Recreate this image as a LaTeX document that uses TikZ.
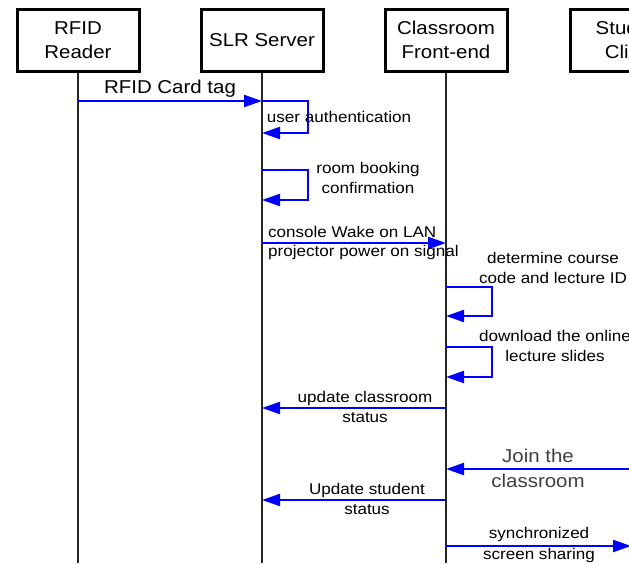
\documentclass[tikz,border=0pt]{standalone}
\usepackage{fontspec}
\setmainfont{Liberation Sans}[FakeStretch=1.1]
\usetikzlibrary{arrows.meta}
\begin{document}
\begin{tikzpicture}[x=1pt,y=-1pt,
  actor/.style={draw, line width=3pt, minimum width=122pt, minimum height=62pt,
    align=center, inner sep=0pt, font=\fontsize{18.6}{24}\selectfont},
  life/.style={line width=1.1pt, black!85},
  msg/.style={draw=blue, line width=2.2pt, -{Triangle[length=18pt,width=12pt,fill=blue]}},
  lbl/.style={align=center, inner sep=0pt, font=\fontsize{15.5}{20.5}\selectfont},
  biglbl/.style={align=center, inner sep=0pt, font=\fontsize{18.6}{25}\selectfont}]
\useasboundingbox (0,0) rectangle (629,563);
\clip (0,0) rectangle (629,563);

% participants
\node[actor] (rfid) at (78,40)  {RFID\\Reader};
\node[actor] (slr)  at (262,40) {SLR Server};
\node[actor] (cfe)  at (446,40) {Classroom\\Front-end};
\node[actor] (sc)   at (631,40) {Student\\Client};

% lifelines
\coordinate (bot) at (0,563);
\foreach \p in {rfid,slr,cfe,sc}
  \draw[life] (\p.south) -- (\p.south |- bot);

% messages
\draw[msg] (rfid |- 0,101) -- (slr |- 0,101);
\node[biglbl] (m1) at (170,89) {RFID Card tag};

\draw[msg] (slr |- 0,101) -| (308,133) -- (slr |- 0,133);
\node[lbl] (m2) at (339,117) {user authentication};

\draw[msg] (slr |- 0,170) -| (308,200) -- (slr |- 0,200);
\node[lbl] (m3) at (368,178) {room booking\\confirmation};

\draw[msg] (slr |- 0,243) -- (cfe |- 0,243);
\node[lbl, anchor=west] (m4a) at (268,232) {console Wake on LAN};
\node[lbl, anchor=west] (m4b) at (268,252) {projector power on signal};

\draw[msg] (cfe |- 0,287) -| (492,316) -- (cfe |- 0,316);
\node[lbl] (m5) at (553,268) {determine course\\code and lecture ID};

\draw[msg] (cfe |- 0,347) -| (492,377) -- (cfe |- 0,377);
\node[lbl] (m6) at (555,346) {download the online\\lecture slides};

\draw[msg] (cfe |- 0,408) -- (slr |- 0,408);
\node[lbl] (m7) at (365,407) {update classroom\\status};

\draw[msg] (sc |- 0,469) -- (cfe |- 0,469);
\node[biglbl, text=black!75] (m8) at (538,468) {Join the\\classroom};

\draw[msg] (cfe |- 0,500) -- (slr |- 0,500);
\node[lbl] (m9) at (367,499) {Update student\\status};

\draw[msg] (cfe |- 0,546) -- (sc |- 0,546);
\node[lbl] (m10) at (539,545) {synchronized\\screen sharing};
\end{tikzpicture}
\end{document}
